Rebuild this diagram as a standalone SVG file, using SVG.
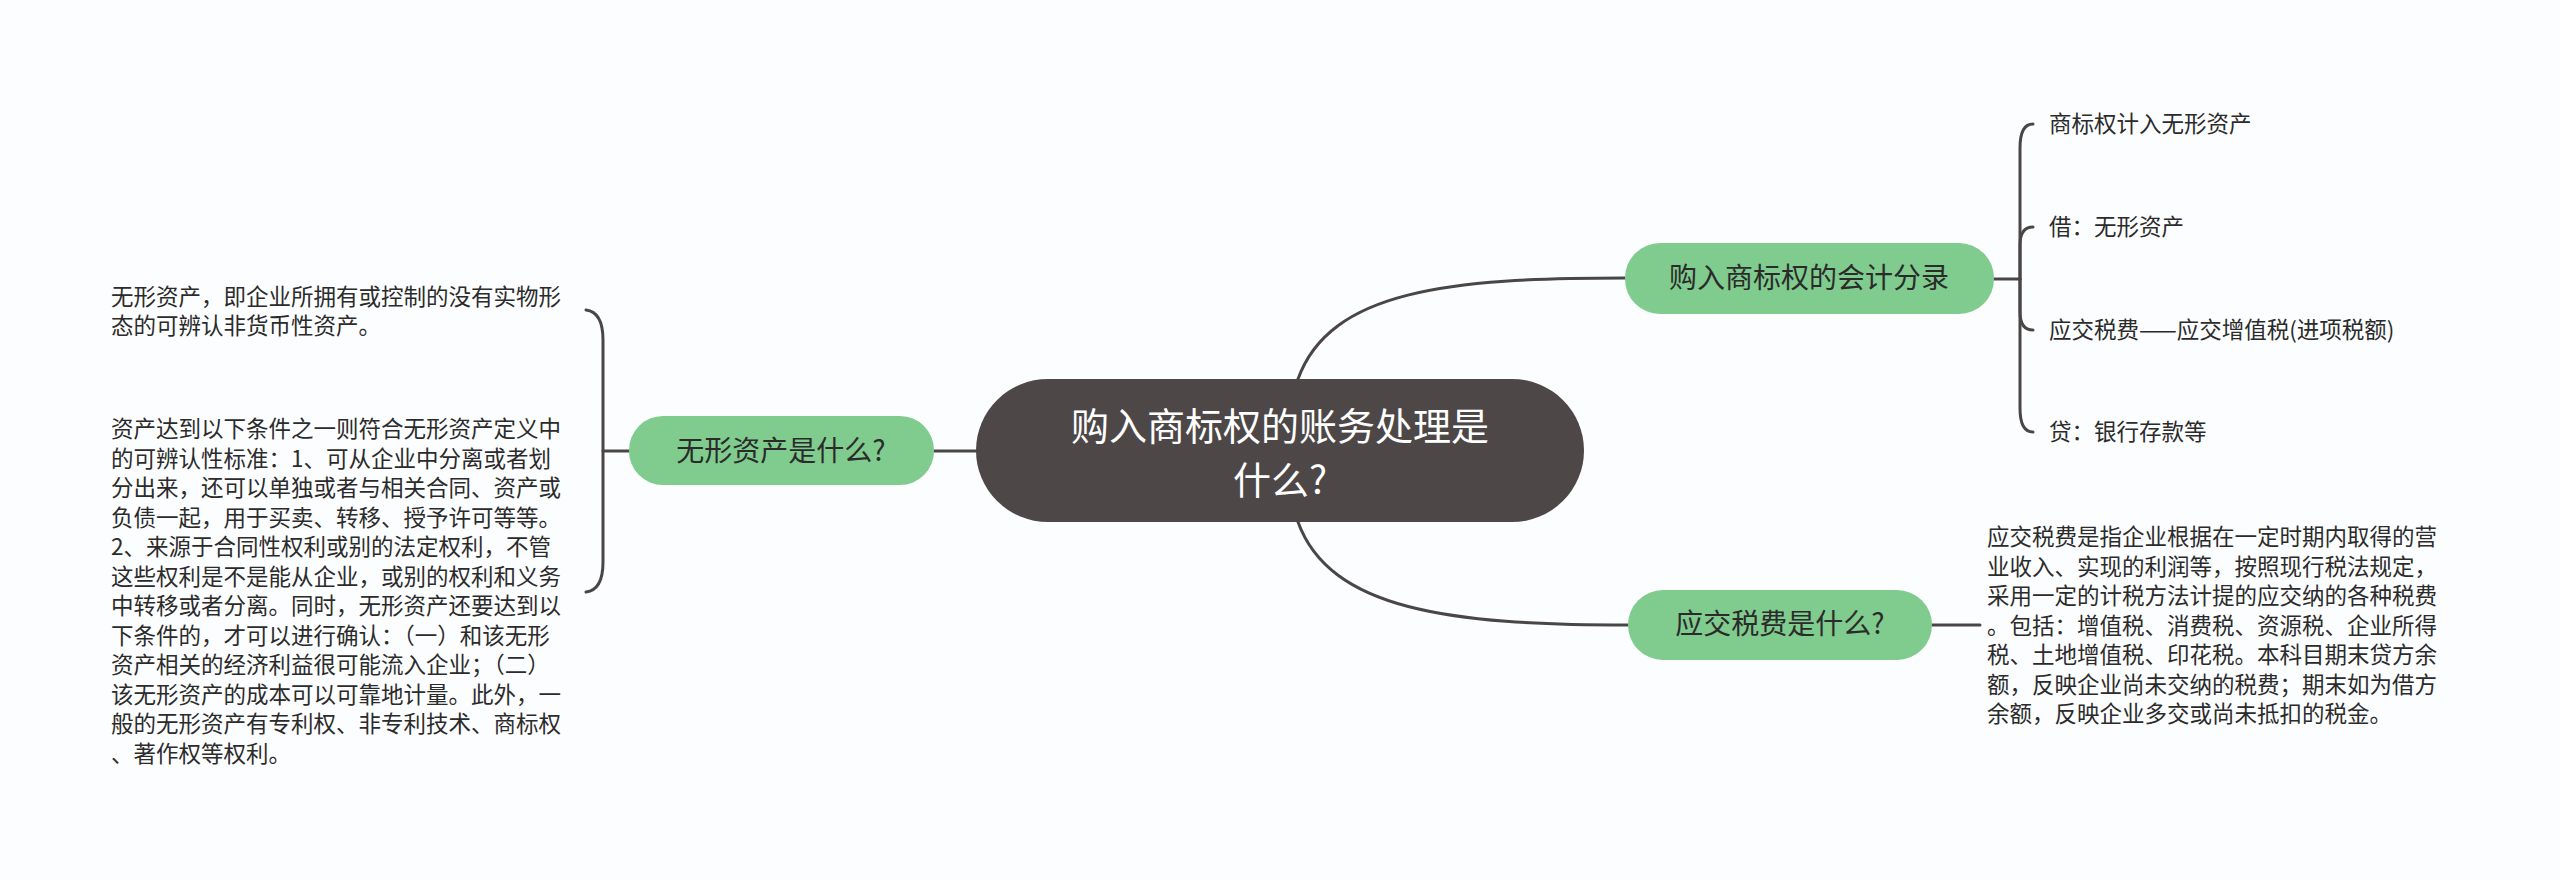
<svg xmlns="http://www.w3.org/2000/svg" width="2560" height="880" viewBox="0 0 2560 880">
<style>
.ln{fill:none;stroke:#4a4646;stroke-width:3;stroke-linecap:round}
.g{fill:#80cc8e}
.t{font-family:"Noto Sans CJK SC","Liberation Sans",sans-serif;fill:#2b2b2b}
.s{font-size:22.5px}
.n{font-size:28px}
</style>
<rect width="2560" height="880" fill="#fcfdfe"/>
<g id="connectors">
<path class="ln" d="M976 451 L934 451"/>
<path class="ln" d="M1298 379 C1330 290 1450 278 1625 278"/>
<path class="ln" d="M1298 522 C1330 610 1450 625 1628 625"/>
<path class="ln" d="M629 451 L603 451"/>
<path class="ln" d="M586 310 Q603 312 603 340 L603 562 Q603 590 586 592"/>
<path class="ln" d="M1994 279 L2020 279"/>
<path class="ln" d="M2020 279 L2020 148 Q2020 124 2033 124"/>
<path class="ln" d="M2020 279 L2020 245 Q2020 227 2033 227"/>
<path class="ln" d="M2020 279 L2020 312 Q2020 330 2033 330"/>
<path class="ln" d="M2020 279 L2020 408 Q2020 432 2033 432"/>
<path class="ln" d="M1932 625 L1980 625"/>
</g>
<g id="center">
<rect x="976" y="379" width="608" height="143" rx="72" fill="#4d4847"/>
<text class="t" x="1280" y="440" font-size="38" fill="#ffffff" style="fill:#fff" text-anchor="middle">购入商标权的账务处理是</text>
<text class="t" x="1280" y="494" font-size="38" style="fill:#fff" text-anchor="middle">什么?</text>
</g>
<g id="node-left">
<rect class="g" x="629" y="416" width="305" height="69" rx="34"/>
<text class="t n" x="781" y="461" text-anchor="middle">无形资产是什么?</text>
</g>
<g id="left-text-1">
<text class="t s" x="111" y="305">无形资产，即企业所拥有或控制的没有实物形</text>
<text class="t s" x="111" y="334">态的可辨认非货币性资产。</text>
</g>
<g id="left-text-2" class="t s">
<text x="111" y="437">资产达到以下条件之一则符合无形资产定义中</text>
<text x="111" y="466.5">的可辨认性标准：1、可从企业中分离或者划</text>
<text x="111" y="496">分出来，还可以单独或者与相关合同、资产或</text>
<text x="111" y="525.5">负债一起，用于买卖、转移、授予许可等等。</text>
<text x="111" y="555">2、来源于合同性权利或别的法定权利，不管</text>
<text x="111" y="584.5">这些权利是不是能从企业，或别的权利和义务</text>
<text x="111" y="614">中转移或者分离。同时，无形资产还要达到以</text>
<text x="111" y="643.5">下条件的，才可以进行确认：（一）和该无形</text>
<text x="111" y="673">资产相关的经济利益很可能流入企业；（二）</text>
<text x="111" y="702.5">该无形资产的成本可以可靠地计量。此外，一</text>
<text x="111" y="732">般的无形资产有专利权、非专利技术、商标权</text>
<text x="111" y="761.5">、著作权等权利。</text>
</g>
<g id="node-top">
<rect class="g" x="1625" y="243" width="369" height="71" rx="35"/>
<text class="t n" x="1809" y="288" text-anchor="middle">购入商标权的会计分录</text>
</g>
<g id="child-1"><text class="t s" x="2049" y="132">商标权计入无形资产</text></g>
<g id="child-2"><text class="t s" x="2049" y="235">借：无形资产</text></g>
<g id="child-3"><text class="t s" x="2049" y="338">应交税费——应交增值税(进项税额)</text></g>
<g id="child-4"><text class="t s" x="2049" y="440">贷：银行存款等</text></g>
<g id="node-bottom">
<rect class="g" x="1628" y="590" width="304" height="70" rx="35"/>
<text class="t n" x="1780" y="634" text-anchor="middle">应交税费是什么?</text>
</g>
<g id="right-text" class="t s">
<text x="1987" y="545">应交税费是指企业根据在一定时期内取得的营</text>
<text x="1987" y="574.5">业收入、实现的利润等，按照现行税法规定，</text>
<text x="1987" y="604">采用一定的计税方法计提的应交纳的各种税费</text>
<text x="1987" y="633.5">。包括：增值税、消费税、资源税、企业所得</text>
<text x="1987" y="663">税、土地增值税、印花税。本科目期末贷方余</text>
<text x="1987" y="692.5">额，反映企业尚未交纳的税费；期末如为借方</text>
<text x="1987" y="722">余额，反映企业多交或尚未抵扣的税金。</text>
</g>
</svg>
